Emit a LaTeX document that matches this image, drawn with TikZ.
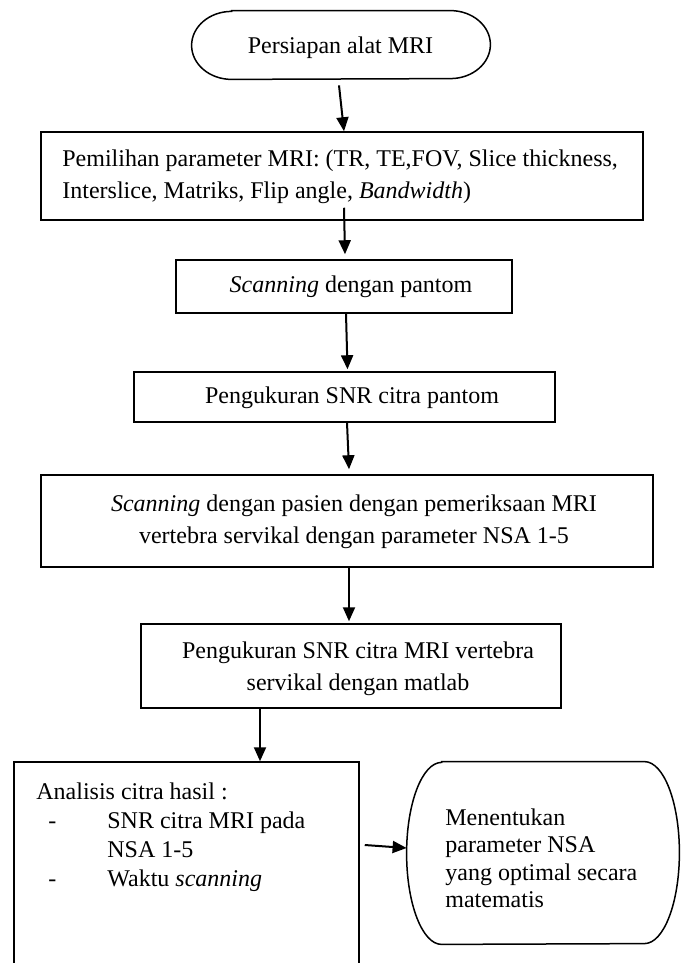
\documentclass[tikz,border=0pt]{standalone}
\usepackage{fontspec}
\setmainfont{Liberation Serif}
\usetikzlibrary{arrows.meta,calc}
\begin{document}
\begin{tikzpicture}[x=0.5pt,y=-0.5pt,
  box/.style={draw, line width=0.75pt, rectangle, inner sep=0pt},
  ghost/.style={rectangle, inner sep=0pt},
  outline/.style={line width=0.75pt},
  flow/.style={-{Triangle[length=7pt,width=6pt]}, line width=1pt},
  txt/.style={inner sep=0pt, font=\fontsize{12}{16}\selectfont},
  txtb/.style={inner sep=0pt, font=\fontsize{12}{14.5}\selectfont},
  txtc/.style={inner sep=0pt, font=\fontsize{12}{13.8}\selectfont}]
\useasboundingbox (0,0) rectangle (684,963);
\fill[white] (0,0) rectangle (684,963);
\clip (0,0) rectangle (684,963);

% boxes
\node[ghost, minimum width=149pt, minimum height=34pt] (b1) at (341,45) {};
\draw[outline] ([xshift=20pt]b1.north west) -- ([xshift=-20pt]b1.north east)
  arc[start angle=90, end angle=-90, x radius=20pt, y radius=17pt]
  -- ([xshift=20pt]b1.south west)
  arc[start angle=270, end angle=90, x radius=20pt, y radius=17pt] -- cycle;

\node[box, minimum width=301pt, minimum height=44pt] (b2) at (342,176) {};
\node[box, minimum width=168pt, minimum height=26.5pt] (b3) at (344,286.5) {};
\node[box, minimum width=210.5pt, minimum height=25pt] (b4) at (344.5,397) {};
\node[box, minimum width=306pt, minimum height=46pt] (b5) at (347,521) {};
\node[box, minimum width=210pt, minimum height=42pt] (b6) at (351,666) {};
\node[box, minimum width=172.5pt, minimum height=114pt] (b7) at (186.5,876) {};

\node[ghost, minimum width=136pt, minimum height=91pt] (b8) at (543,853) {};
\draw[outline] ([xshift=17.5pt]b8.north west) -- ([xshift=-17.5pt]b8.north east)
  arc[start angle=90, end angle=-90, x radius=17.5pt, y radius=45.5pt]
  -- ([xshift=17.5pt]b8.south west)
  arc[start angle=270, end angle=90, x radius=17.5pt, y radius=45.5pt] -- cycle;

% texts
\node[txt, anchor=base] (t1) at (340.5,53.5) {Persiapan alat MRI};
\node[txt, anchor=north west, align=left] (t2) at (62,149)
  {Pemilihan parameter MRI: (TR, TE,FOV, Slice thickness,\\Interslice, Matriks, Flip angle, \textit{Bandwidth})};
\node[txt, anchor=base] (t3) at (351,292) {\textit{Scanning} dengan pantom};
\node[txt, anchor=base] (t4) at (352,403.5) {Pengukuran SNR citra pantom};
\node[txt, anchor=north, align=center] (t5) at (354,494)
  {\textit{Scanning} dengan pasien dengan pemeriksaan MRI\\vertebra servikal dengan parameter NSA 1-5};
\node[txt, anchor=north, align=center] (t6) at (358,641)
  {Pengukuran SNR citra MRI vertebra\\servikal dengan matlab};
\node[txtb, anchor=north west, align=left] (t7) at (36,782)
  {Analisis citra hasil :\\
   \hspace*{6pt}\makebox[29.5pt][l]{-}SNR citra MRI pada\\
   \hspace*{35.5pt}NSA 1-5\\
   \hspace*{6pt}\makebox[29.5pt][l]{-}Waktu \textit{scanning}};
\node[txtc, anchor=north west, align=left] (t8) at (445,808)
  {Menentukan\\parameter NSA\\yang optimal secara\\matematis};

% connectors
\draw[flow] ([xshift=-1pt,yshift=-3pt]b1.south) -- ([xshift=1pt]b2.north);
\draw[flow] ([xshift=1pt,yshift=6.5pt]b2.south) -- ([xshift=0.5pt,yshift=2.5pt]b3.north);
\draw[flow] ([xshift=1pt]b3.south) -- ([xshift=1.5pt,yshift=1pt]b4.north);
\draw[flow] ([xshift=1.25pt]b4.south) -- ([xshift=1pt,yshift=2.5pt]b5.north);
\draw[flow] ([xshift=1pt]b5.south) -- ([xshift=-1pt,yshift=1pt]b6.north);
\draw[flow] ([xshift=-45.5pt]b6.south) -- ([xshift=36.75pt]b7.north);
\draw[flow] ([xshift=2.5pt,yshift=15.5pt]b7.east) -- ([yshift=2.5pt]b8.west);
\end{tikzpicture}
\end{document}
